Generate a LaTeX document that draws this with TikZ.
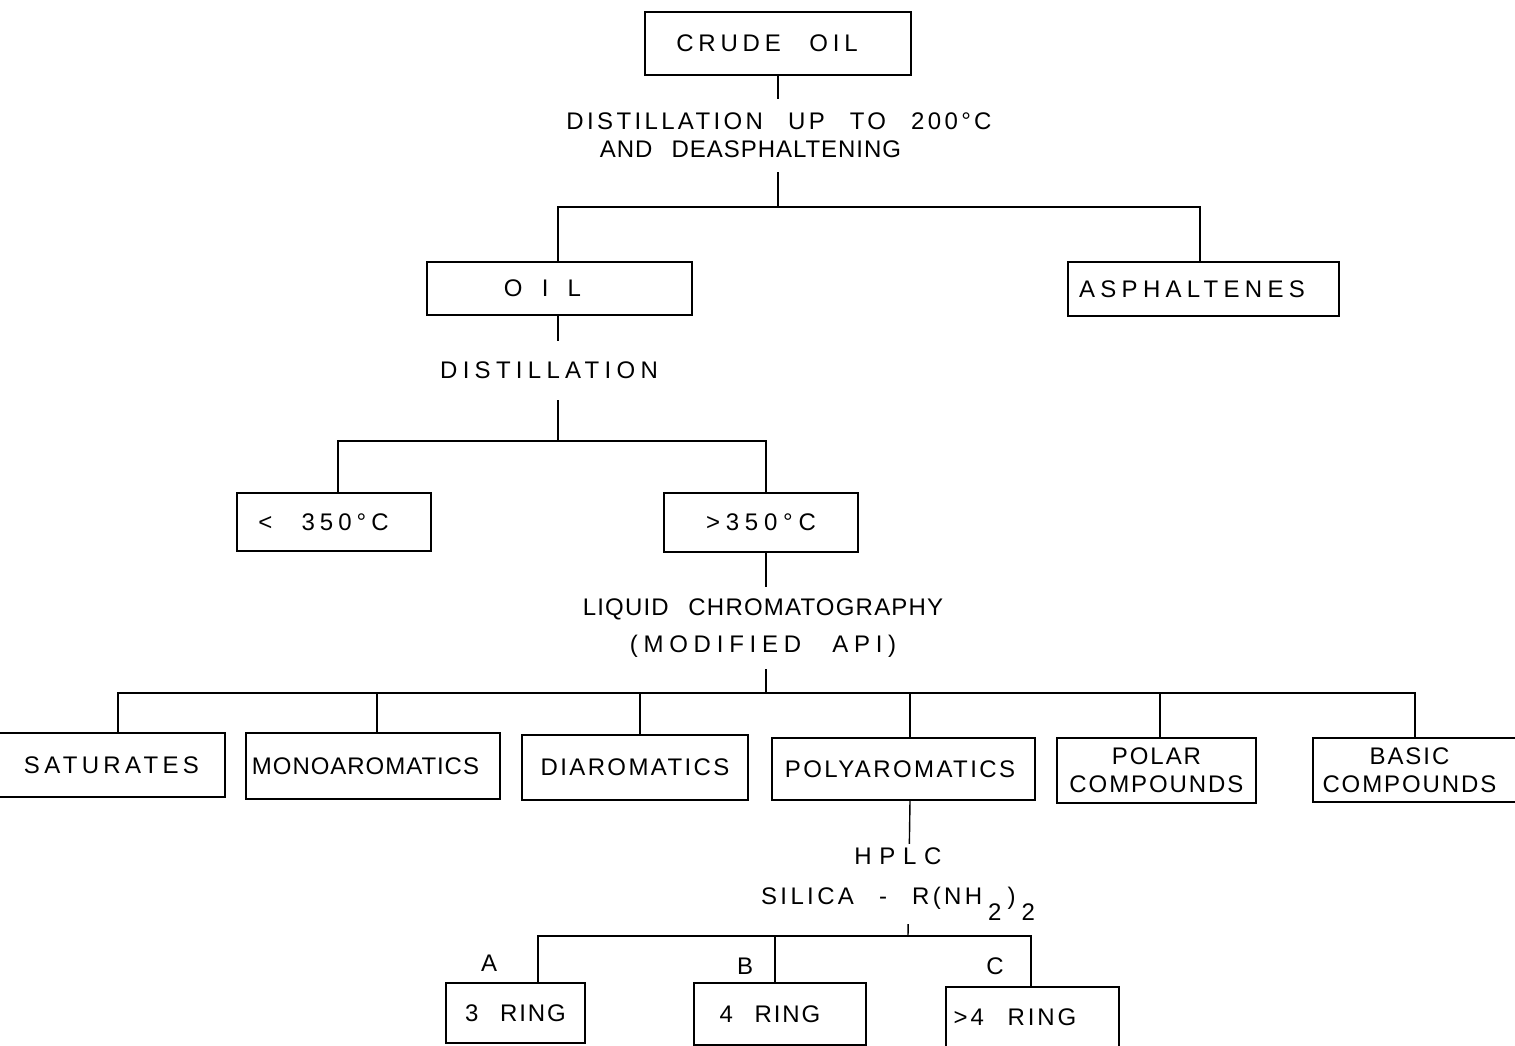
\documentclass[tikz,border=0pt]{standalone}
\usepackage{fontspec}
\setmainfont{Liberation Sans}[LetterSpace=14,WordSpace=2.5]
\newcommand{\chartfont}{\fontsize{12}{14}\selectfont}
\newcommand{\spread}[1]{\addfontfeature{LetterSpace=#1}}
\tikzset{
  chartbox/.style={draw, line width=0.7pt, inner sep=0pt, font=\chartfont},
  steplabel/.style={fill=white, align=center, inner xsep=2pt, font=\chartfont},
  branch/.style={line width=0.7pt},
}
\begin{document}
\begin{tikzpicture}[x=0.5pt,y=-0.5pt]
\useasboundingbox (0,0) rectangle (1515,1045);
% boxes
\node[chartbox, minimum width=133pt, minimum height=31.5pt] (crude) at (778,43.5) {\spread{20}CRUDE OIL\hspace*{11pt}};
\node[chartbox, minimum width=132.5pt, minimum height=26.5pt] (oil) at (559.5,288.5) {\spread{80}OIL\hspace*{17pt}};
\node[chartbox, minimum width=135.5pt, minimum height=27pt] (asph) at (1203.5,289) {\spread{22}ASPHALTENES\hspace*{11.5pt}};
\node[chartbox, minimum width=97pt, minimum height=29pt] (lt350) at (334,522) {\spread{21}< 350°C\hspace*{10.5pt}};
\node[chartbox, minimum width=97pt, minimum height=29.5pt] (gt350) at (761,522.5) {\spread{24}>350°C};
\node[chartbox, minimum width=122.5pt, minimum height=32pt] (sat) at (102.5,765) {\spread{18}\hspace*{9pt}SATURATES};
\node[chartbox, minimum width=127pt, minimum height=33pt] (mono) at (373,766) {\spread{4}\hspace*{-7.5pt}MONOAROMATICS};
\node[chartbox, minimum width=113pt, minimum height=32.5pt] (diaro) at (635,767.5) {\spread{10}DIAROMATICS};
\node[chartbox, minimum width=131.5pt, minimum height=31pt] (poly) at (903.5,769) {\spread{10}\hspace*{-3.5pt}POLYAROMATICS};
\node[chartbox, minimum width=99.5pt, minimum height=32.5pt, align=center] (polar) at (1156.5,770.5) {\spread{8}POLAR\\\spread{8}COMPOUNDS};
\node[chartbox, minimum width=113.5pt, minimum height=32pt, align=center] (basic) at (1426.5,770) {\spread{8}BASIC\hspace*{17pt}\\\spread{8}COMPOUNDS\hspace*{17pt}};
\node[chartbox, minimum width=69.5pt, minimum height=30pt] (ring3) at (515.5,1013) {\spread{8}3 RING};
\node[chartbox, minimum width=86pt, minimum height=31pt] (ring4) at (780,1014) {\spread{8}4 RING\hspace*{10pt}};
\node[chartbox, minimum width=86.5pt, minimum height=30pt] (ring5) at (1032.5,1017) {\spread{12}>4 RING\hspace*{17.5pt}};
% branch points
\coordinate (s1) at (778,207);
\coordinate (s2) at (558,441);
\coordinate (s3) at (766,693);
\coordinate (s4) at (908,936);
% connectors
\draw[branch] (crude.south) -- (s1);
\draw[branch] ([xshift=-0.75pt]oil.north) |- (s1) -| ([xshift=-1.75pt]asph.north);
\draw[branch] ([xshift=-0.75pt]oil.south) -- (s2);
\draw[branch] ([xshift=2pt]lt350.north) |- (s2) -| ([xshift=2.5pt]gt350.north);
\draw[branch] ([xshift=2.5pt]gt350.south) -- (s3);
\draw[branch] ([xshift=7.75pt]sat.north) |- (s3) -| ([xshift=-5.75pt]basic.north);
\draw[branch] ([xshift=2pt]mono.north) -- ([xshift=2pt]mono.north |- s3);
\draw[branch] ([xshift=2.5pt]diaro.north) -- ([xshift=2.5pt]diaro.north |- s3);
\draw[branch] ([xshift=3.25pt]poly.north) -- ([xshift=3.25pt]poly.north |- s3);
\draw[branch] ([xshift=1.75pt]polar.north) -- ([xshift=1.75pt]polar.north |- s3);
\draw[branch] ([xshift=3.25pt]poly.south) -- (s4);
\draw[branch] ([xshift=11.25pt]ring3.north) |- (s4) -| ([xshift=-0.75pt]ring5.north);
\draw[branch] ([xshift=-2.5pt]ring4.north) -- ([xshift=-2.5pt]ring4.north |- s4);
% step labels
\node[steplabel, inner ysep=7pt] (dist1) at (779,135)
  {DISTILLATION UP TO 200°C\\\spread{4}AND DEASPHALTENING\hspace*{28.5pt}};
\node[steplabel, inner ysep=10.5pt] (dist2) at (549,370) {\spread{22}DISTILLATION};
\node[steplabel, inner ysep=6pt] (chrom) at (763,628)
  {\spread{5}LIQUID CHROMATOGRAPHY\\[4.5pt]\spread{24}(MODIFIED API)};
\node[steplabel, inner ysep=2pt] (hplc) at (898,884)
  {{\spread{32}HPLC}\\[6pt]SILICA - R(NH\hspace{3pt}\raisebox{-8pt}{2}\hspace{3pt})\hspace{3pt}\raisebox{-8pt}{2}};
\node[font=\chartfont] (tagA) at (489,963) {A};
\node[font=\chartfont] (tagB) at (745,966) {B};
\node[font=\chartfont] (tagC) at (995,966) {C};
\end{tikzpicture}
\end{document}
